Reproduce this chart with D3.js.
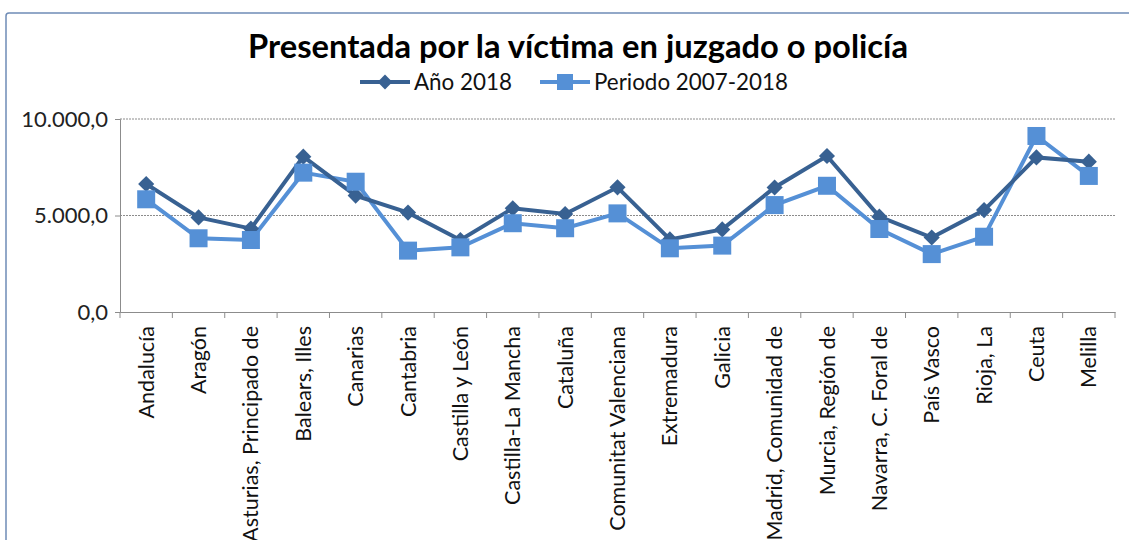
<!DOCTYPE html>
<html>
<head>
<meta charset="utf-8">
<script src="https://cdn.jsdelivr.net/npm/d3@7"></script>
<style>
  body { margin: 0; background: #fff; }
  text { font-family: Lato, "Open Sans", sans-serif; }
</style>
</head>
<body>
<script>
var regiones = ['Andalucía', 'Aragón', 'Asturias, Principado de', 'Balears, Illes', 'Canarias',
  'Cantabria', 'Castilla y León', 'Castilla-La Mancha', 'Cataluña', 'Comunitat Valenciana',
  'Extremadura', 'Galicia', 'Madrid, Comunidad de', 'Murcia, Región de', 'Navarra, C. Foral de',
  'País Vasco', 'Rioja, La', 'Ceuta', 'Melilla'];
var anio2018 = [6630, 4900, 4320, 8050, 6030, 5150, 3730, 5370, 5080, 6460,
  3760, 4280, 6450, 8080, 4940, 3860, 5280, 8010, 7790];
var periodo = [5840, 3820, 3730, 7220, 6750, 3180, 3350, 4600, 4340, 5110,
  3300, 3440, 5540, 6540, 4300, 3000, 3900, 9120, 7050];
var yTicks = [0, 5000, 10000];

var svg = d3.select('body').append('svg').attr('width', 1129).attr('height', 540);

// borde del gráfico
svg.append('path').attr('d', 'M6,540 L6,16 Q6,13 9,13 L1129,13')
  .attr('fill', 'none').attr('stroke', '#6f8cb6').attr('stroke-width', 1.5);

var x = d3.scaleBand().domain(regiones).range([120, 1115]);
var y = d3.scaleLinear().domain([0, 10000]).range([312, 119]);
var fmt = function(d) { return d3.format(',.1f')(d).replace(/,/g, '#').replace('.', ',').replace(/#/g, '.'); };

// rejilla
svg.append('g').selectAll('line').data(yTicks.filter(function(d) { return d > 0; })).join('line')
  .attr('x1', 120).attr('x2', 1115).attr('y1', y).attr('y2', y)
  .attr('stroke', '#8c8c8c').attr('stroke-dasharray', '2,1').attr('stroke-width', 1);

// eje y
var ejeY = svg.append('g').attr('transform', 'translate(120,0)')
  .call(d3.axisLeft(y).tickValues(yTicks).tickFormat(fmt).tickSize(5).tickPadding(7));
ejeY.select('.domain').attr('stroke', '#8c8c8c');
ejeY.selectAll('.tick line').attr('stroke', '#8c8c8c');
ejeY.selectAll('text').attr('font-size', 22).attr('fill', '#222');

// eje x
var ejeX = svg.append('g').attr('transform', 'translate(0,312)')
  .call(d3.axisBottom(x).tickSize(0));
ejeX.select('.domain').attr('stroke', '#8c8c8c');
ejeX.selectAll('text').attr('font-size', 21.5).attr('fill', '#111')
  .attr('text-anchor', 'end').attr('dy', '0.35em')
  .attr('transform', 'rotate(-90)')
  .attr('x', -14).attr('y', 0);
svg.append('g').selectAll('line').data(d3.range(regiones.length + 1)).join('line')
  .attr('x1', function(i) { return 120 + i * x.step(); })
  .attr('x2', function(i) { return 120 + i * x.step(); })
  .attr('y1', 312).attr('y2', 318).attr('stroke', '#8c8c8c');

var cx = function(d, i) { return x(regiones[i]) + x.bandwidth() / 2; };
var linea = d3.line().x(cx).y(function(d) { return y(d); });

var oscuro = '#386192', claro = '#5590d6';

// periodo 2007-2018
svg.append('path').datum(periodo).attr('d', linea)
  .attr('fill', 'none').attr('stroke', claro).attr('stroke-width', 4);
// año 2018
svg.append('path').datum(anio2018).attr('d', linea)
  .attr('fill', 'none').attr('stroke', oscuro).attr('stroke-width', 4);

svg.append('g').selectAll('path').data(anio2018).join('path')
  .attr('d', d3.symbol(d3.symbolSquare, 130))
  .attr('transform', function(d, i) { return 'translate(' + cx(d, i) + ',' + y(d) + ') rotate(45)'; })
  .attr('fill', oscuro);
svg.append('g').selectAll('rect').data(periodo).join('rect')
  .attr('x', function(d, i) { return cx(d, i) - 9; }).attr('y', function(d) { return y(d) - 9; })
  .attr('width', 18).attr('height', 18).attr('fill', claro);

// título
svg.append('text').attr('x', 578).attr('y', 58).attr('text-anchor', 'middle')
  .attr('font-size', 32).attr('font-weight', 'bold').attr('fill', '#000')
  .attr('textLength', 660).attr('lengthAdjust', 'spacingAndGlyphs')
  .text('Presentada por la víctima en juzgado o policía');

// leyenda
var leyenda = [
  { nombre: 'Año 2018', color: oscuro, x: 360, ancho: 98, forma: 'rombo' },
  { nombre: 'Periodo 2007-2018', color: claro, x: 540, ancho: 194, forma: 'cuadrado' }
];
var items = svg.append('g').selectAll('g').data(leyenda).join('g')
  .attr('transform', function(d) { return 'translate(' + d.x + ',82)'; });
items.append('line').attr('x1', 0).attr('x2', 50).attr('stroke', function(d) { return d.color; })
  .attr('stroke-width', 4);
items.filter(function(d) { return d.forma === 'rombo'; }).append('path')
  .attr('d', d3.symbol(d3.symbolSquare, 110)).attr('transform', 'translate(25,0) rotate(45)')
  .attr('fill', function(d) { return d.color; });
items.filter(function(d) { return d.forma === 'cuadrado'; }).append('rect')
  .attr('x', 17).attr('y', -8).attr('width', 16).attr('height', 16)
  .attr('fill', function(d) { return d.color; });
items.append('text').attr('x', 54).attr('dy', '0.35em').attr('font-size', 23).attr('fill', '#111')
  .attr('textLength', function(d) { return d.ancho; }).attr('lengthAdjust', 'spacingAndGlyphs')
  .text(function(d) { return d.nombre; });
</script>
</body>
</html>
